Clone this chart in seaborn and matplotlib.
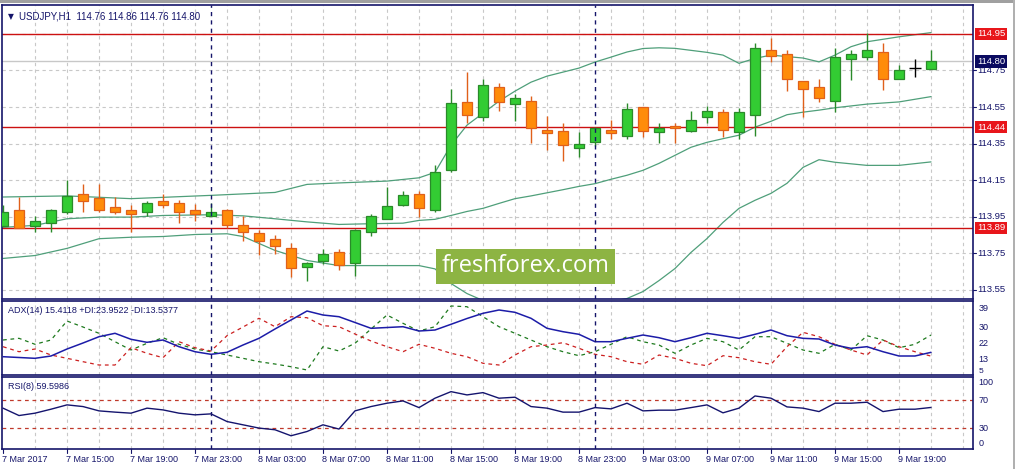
import numpy as np
import pandas as pd
import matplotlib
matplotlib.use("Agg")
import matplotlib.pyplot as plt
import seaborn as sns

# === USDJPY H1 candles, 7 Mar 11:00 -> 9 Mar 21:00 ===
opens = [113.900, 113.989, 113.900, 113.917, 113.975, 114.072, 114.050, 114.001, 113.989, 113.975,
         114.036, 114.027, 113.989, 113.954, 113.989, 113.903, 113.860, 113.830, 113.778, 113.676,
         113.709, 113.759, 113.698, 113.868, 113.939, 114.014, 114.076, 113.989, 114.208, 114.579,
         114.496, 114.657, 114.569, 114.585, 114.427, 114.418, 114.326, 114.357, 114.427, 114.390,
         114.550, 114.411, 114.449, 114.417, 114.496, 114.521, 114.416, 114.509, 114.860, 114.838,
         114.690, 114.657, 114.583, 114.814, 114.825, 114.849, 114.701, 114.761, 114.760]
highs = [114.012, 114.060, 113.952, 113.990, 114.149, 114.127, 114.127, 114.058, 114.012, 114.034,
         114.072, 114.040, 114.021, 114.027, 113.990, 113.954, 113.875, 113.848, 113.808, 113.700,
         113.771, 113.771, 113.884, 113.967, 114.112, 114.090, 114.089, 114.231, 114.646, 114.739,
         114.703, 114.680, 114.620, 114.610, 114.500, 114.460, 114.414, 114.440, 114.478, 114.571,
         114.550, 114.461, 114.463, 114.527, 114.558, 114.538, 114.547, 114.898, 114.925, 114.860,
         114.690, 114.701, 114.871, 114.861, 114.956, 114.898, 114.779, 114.810, 114.860]
lows = [113.897, 113.889, 113.866, 113.866, 113.965, 113.975, 113.975, 113.965, 113.866, 113.954,
        114.000, 113.915, 113.926, 113.954, 113.890, 113.820, 113.740, 113.744, 113.623, 113.597,
        113.689, 113.660, 113.625, 113.844, 113.939, 114.008, 113.948, 113.975, 114.195, 114.460,
        114.473, 114.530, 114.473, 114.352, 114.317, 114.255, 114.277, 114.339, 114.376, 114.376,
        114.386, 114.352, 114.352, 114.414, 114.460, 114.386, 114.376, 114.390, 114.797, 114.639,
        114.496, 114.578, 114.523, 114.697, 114.806, 114.642, 114.701, 114.715, 114.760]
closes = [113.975, 113.890, 113.928, 113.989, 114.062, 114.036, 113.985, 113.975, 113.965, 114.027,
          114.014, 113.975, 113.965, 113.978, 113.906, 113.866, 113.820, 113.788, 113.671, 113.698,
          113.748, 113.688, 113.879, 113.952, 114.010, 114.071, 113.999, 114.197, 114.570, 114.509,
          114.668, 114.578, 114.597, 114.437, 114.410, 114.340, 114.350, 114.438, 114.410, 114.537,
          114.417, 114.436, 114.438, 114.477, 114.527, 114.427, 114.521, 114.871, 114.827, 114.701,
          114.646, 114.597, 114.825, 114.838, 114.860, 114.706, 114.755, 114.761, 114.800]

# === Bollinger bands (read at selected bars) ===
bb_up_bar = [0, 4, 8, 13, 15, 17, 19, 21, 24, 26, 27, 28, 29, 30, 31, 32, 33, 34, 36, 37, 38, 39,
             40, 41, 42, 44, 45, 46, 47, 48, 50, 51, 52, 53, 54, 56, 58]
bb_up = [114.058, 114.064, 114.049, 114.067, 114.075, 114.083, 114.127, 114.135, 114.145, 114.163,
         114.193, 114.341, 114.451, 114.516, 114.582, 114.637, 114.686, 114.719, 114.763, 114.796,
         114.823, 114.851, 114.870, 114.874, 114.871, 114.849, 114.834, 114.789, 114.816, 114.834,
         114.818, 114.797, 114.834, 114.880, 114.907, 114.934, 114.957]
bb_mid_bar = [0, 2, 4, 6, 8, 10, 13, 15, 17, 19, 21, 23, 25, 26, 27, 28, 29, 30, 31, 32, 33, 34,
              35, 36, 37, 38, 39, 40, 41, 42, 43, 44, 45, 46, 47, 48, 49, 50, 51, 52, 54, 56, 58]
bb_mid = [113.892, 113.903, 113.939, 113.948, 113.948, 113.957, 113.961, 113.955, 113.939, 113.922,
          113.908, 113.912, 113.915, 113.930, 113.936, 113.957, 113.979, 113.996, 114.023, 114.049,
          114.064, 114.081, 114.098, 114.116, 114.131, 114.155, 114.177, 114.204, 114.242, 114.286,
          114.330, 114.357, 114.377, 114.396, 114.440, 114.472, 114.508, 114.522, 114.533, 114.546,
          114.566, 114.578, 114.607]
bb_low_bar = [0, 2, 4, 6, 8, 10, 12, 14, 15, 17, 19, 21, 23, 26, 27, 28, 29, 30, 31, 32, 33, 34,
              35, 36, 37, 38, 39, 40, 41, 42, 43, 44, 45, 46, 47, 48, 49, 50, 51, 52, 54, 56, 58]
bb_low = [113.722, 113.738, 113.777, 113.830, 113.838, 113.842, 113.853, 113.857, 113.842, 113.766,
          113.711, 113.683, 113.683, 113.683, 113.665, 113.585, 113.530, 113.492, 113.470, 113.459,
          113.442, 113.442, 113.453, 113.470, 113.470, 113.486, 113.503, 113.541, 113.601, 113.667,
          113.755, 113.831, 113.919, 113.996, 114.040, 114.078, 114.133, 114.220, 114.262, 114.248,
          114.231, 114.231, 114.250]

# === ADX(14) ===
adx_main = [13.26, 12.87, 12.47, 13.61, 17.05, 20.01, 23.11, 24.79, 21.83, 20.35, 21.49, 18.19,
            15.72, 14.44, 15.43, 19.02, 22.32, 26.91, 31.34, 35.77, 33.80, 32.96, 30.11, 27.25,
            27.64, 28.04, 25.92, 26.41, 29.22, 32.08, 34.64, 36.27, 35.13, 32.18, 27.25, 25.58,
            24.29, 20.65, 20.65, 22.32, 23.95, 22.62, 20.65, 22.62, 24.79, 23.61, 22.32, 24.29,
            26.41, 23.61, 22.32, 21.98, 19.02, 17.40, 18.19, 15.72, 13.61, 13.61, 15.41]
plus_di = [21.49, 22.32, 19.37, 21.49, 30.85, 27.89, 24.79, 20.65, 16.56, 19.86, 22.62, 19.37,
           17.05, 15.72, 14.10, 12.47, 10.80, 9.66, 8.33, 6.71, 18.19, 16.07, 19.86, 26.91,
           33.80, 29.71, 25.92, 28.04, 38.24, 37.89, 32.96, 28.04, 24.79, 21.49, 18.19, 15.72,
           13.75, 15.72, 19.37, 23.11, 20.65, 19.02, 14.94, 19.02, 22.32, 20.65, 16.56, 23.11,
           23.11, 19.86, 16.56, 14.94, 19.37, 16.56, 23.61, 21.49, 17.69, 19.37, 23.95]
minus_di = [18.19, 15.72, 17.05, 14.10, 12.47, 10.80, 9.17, 9.17, 17.69, 14.94, 12.77, 20.65,
            17.69, 16.07, 23.61, 27.89, 32.18, 28.04, 32.96, 32.47, 28.53, 28.04, 24.44, 20.99,
            18.19, 15.72, 19.37, 17.40, 14.94, 13.26, 10.01, 9.17, 14.10, 18.19, 19.02, 20.16,
            17.40, 14.44, 13.26, 10.80, 9.52, 14.10, 12.47, 10.01, 8.83, 13.75, 12.77, 10.80,
            9.52, 18.19, 25.28, 23.11, 19.37, 16.56, 14.10, 21.49, 18.19, 15.72, 13.54]

# === RSI(8) ===
rsi = [58.6, 48.0, 51.4, 57.1, 63.3, 60.9, 54.7, 52.9, 51.4, 58.6, 56.1, 51.4, 49.0, 50.4, 39.4,
       34.7, 30.0, 27.6, 19.0, 25.1, 34.7, 28.6, 54.7, 60.9, 65.7, 69.0, 59.4, 72.9, 82.3, 77.6,
       80.9, 72.9, 74.3, 60.9, 58.6, 52.9, 52.9, 59.4, 57.6, 65.7, 54.7, 55.7, 55.7, 59.4, 63.3,
       51.9, 58.6, 76.1, 72.9, 60.4, 58.6, 53.7, 65.7, 65.7, 67.1, 53.7, 57.1, 57.1, 59.6]

levels = [114.95, 114.44, 113.89]
last_price = 114.80
price_ticks = [114.75, 114.55, 114.35, 114.15, 113.95, 113.75, 113.55]
adx_ticks = [39, 30, 22]
rsi_levels = [70, 30]
day_breaks = [13, 37]
time_labels = ["7 Mar 2017", "7 Mar 15:00", "7 Mar 19:00", "7 Mar 23:00", "8 Mar 03:00",
               "8 Mar 07:00", "8 Mar 11:00", "8 Mar 15:00", "8 Mar 19:00", "8 Mar 23:00",
               "9 Mar 03:00", "9 Mar 07:00", "9 Mar 11:00", "9 Mar 15:00", "9 Mar 19:00"]

# === Style ===
sns.set_style("white")
plt.rcParams["font.family"] = ["Liberation Sans", "DejaVu Sans"]
NAVY = "#15156a"
GRID = "#c8c8c8"
BAND = "#4f9f7a"
RED = "#cc1111"
UP_FILL, UP_EDGE = "#33cc33", "#2a8a2a"
DN_FILL, DN_EDGE = "#ff8c0a", "#e0601a"

W, H = 1015, 469
fig = plt.figure(figsize=(W / 100, H / 100), dpi=100)
fig.patch.set_facecolor("white")


def box(x0, y0, x1, y1):
    return [x0 / W, 1 - y1 / H, (x1 - x0) / W, (y1 - y0) / H]


ax = fig.add_axes(box(2, 5, 973, 298.5))
ax_adx = fig.add_axes(box(2, 301, 973, 375))
ax_rsi = fig.add_axes(box(2, 377, 973, 449))

n = len(opens)
bars = np.arange(n)
xlim = (-0.0625, 60.625)

for a in (ax, ax_adx, ax_rsi):
    a.set_xlim(*xlim)
    a.set_facecolor("white")
    for s in a.spines.values():
        s.set_color(NAVY)
        s.set_linewidth(1.2)
    a.set_xticks([])
    a.set_yticks([])
    for b in range(2, 61, 2):
        a.axvline(b, color=GRID, lw=0.8, ls=(0, (3, 3)), zorder=0)
    for d in day_breaks:
        a.axvline(d, color=NAVY, lw=1, ls=(0, (3, 3)), zorder=4)

# === Main price panel ===
ax.set_ylim(113.503, 115.108)
for p in price_ticks + [114.95]:
    ax.axhline(p, color=GRID, lw=0.8, ls=(0, (3, 3)), zorder=0)
ax.axhline(last_price, color="#c8c8c8", lw=1, zorder=1)
for lv in levels:
    ax.axhline(lv, color=RED, lw=1, zorder=2)

sns.lineplot(x=bb_up_bar, y=bb_up, ax=ax, color=BAND, lw=0.9, zorder=1)
sns.lineplot(x=bb_mid_bar, y=bb_mid, ax=ax, color=BAND, lw=0.9, zorder=1)
sns.lineplot(x=bb_low_bar, y=bb_low, ax=ax, color=BAND, lw=0.9, zorder=1)

df = pd.DataFrame({"open": opens, "high": highs, "low": lows, "close": closes, "bar": bars})
df["body_lo"] = df[["open", "close"]].min(axis=1)
df["body_h"] = (df["close"] - df["open"]).abs().clip(lower=0.004)
is_doji = df["close"] == df["open"]
is_up = df["close"] > df["open"]
body = df[~is_doji]
up = body[is_up[~is_doji]]
dn = body[~is_up[~is_doji]]
ax.vlines(up["bar"], up["low"], up["high"], color=UP_EDGE, lw=1, zorder=3)
ax.vlines(dn["bar"], dn["low"], dn["high"], color=DN_EDGE, lw=1, zorder=3)
ax.bar(up["bar"], up["body_h"], bottom=up["body_lo"], width=0.62, color=UP_FILL,
       edgecolor=UP_EDGE, linewidth=0.9, zorder=3)
ax.bar(dn["bar"], dn["body_h"], bottom=dn["body_lo"], width=0.62, color=DN_FILL,
       edgecolor=DN_EDGE, linewidth=0.9, zorder=3)
dj = df[is_doji]
ax.vlines(dj["bar"], dj["low"], dj["high"], color="black", lw=1, zorder=3)
ax.hlines(dj["open"], dj["bar"] - 0.4, dj["bar"] + 0.4, color="black", lw=1, zorder=3)

ytr = ax.get_yaxis_transform()
for p in price_ticks:
    ax.text(1.004, p, f"{p:.2f}", transform=ytr, ha="left", va="center", fontsize=6.8,
            color=NAVY, clip_on=False)
    ax.plot([1.0, 1.003], [p, p], transform=ytr, color=NAVY, lw=0.8, clip_on=False)
for lv in levels:
    ax.text(1.004, lv, f"{lv:.2f}", transform=ytr, ha="left", va="center", fontsize=6.8,
            color="white", clip_on=False,
            bbox=dict(boxstyle="square,pad=0.18", fc="#e8161b", ec="none"))
ax.text(1.004, last_price, f"{last_price:.2f}", transform=ytr, ha="left", va="center",
        fontsize=6.8, color="white", clip_on=False, zorder=6,
        bbox=dict(boxstyle="square,pad=0.18", fc="#0a0a60", ec="none"))

ax.text(0.006, 0.975, "\u25bc", transform=ax.transAxes, ha="left", va="top", fontsize=5.5,
        color=NAVY, family="DejaVu Sans")
ax.text(0.017, 0.977, "USDJPY,H1  114.76 114.86 114.76 114.80", transform=ax.transAxes,
        ha="left", va="top", fontsize=7, color=NAVY)

# watermark
ax.text(32.66, 113.678, "freshforex.com", ha="center", va="center", fontsize=17,
        color="white", family=["Open Sans", "DejaVu Sans"], zorder=7,
        bbox=dict(boxstyle="square,pad=0.25", fc="#8db443", ec="none"))

# === ADX panel ===
ax_adx.set_ylim(4.25, 40.7)
sns.lineplot(x=bars, y=adx_main, ax=ax_adx, color="#1c1ca8", lw=1.1, zorder=3)
sns.lineplot(x=bars, y=plus_di, ax=ax_adx, color="#1e7a1e", lw=0.9, ls=(0, (3, 3)), zorder=2)
sns.lineplot(x=bars, y=minus_di, ax=ax_adx, color="#cc2020", lw=0.9, ls=(0, (3, 3)), zorder=2)
atr = ax_adx.get_yaxis_transform()
for t in adx_ticks:
    ax_adx.text(1.006, t, str(t), transform=atr, ha="left", va="top", fontsize=6.5,
                color=NAVY, clip_on=False)
ax_adx.text(1.006, 14.2, "13", transform=atr, ha="left", va="top", fontsize=6.5,
            color=NAVY, clip_on=False)
ax_adx.text(1.006, 4.4, "5", transform=atr, ha="left", va="bottom", fontsize=6.0,
            color=NAVY, clip_on=False)
ax_adx.text(0.006, 0.93, "ADX(14) 15.4118 +DI:23.9522 -DI:13.5377", transform=ax_adx.transAxes,
            ha="left", va="top", fontsize=6.5, color=NAVY)

# === RSI panel ===
ax_rsi.set_ylim(0, 103.3)
for lv in rsi_levels:
    ax_rsi.axhline(lv, color="#c0392b", lw=0.9, ls=(0, (3, 3)), zorder=1)
sns.lineplot(x=bars, y=rsi, ax=ax_rsi, color="#14146e", lw=1, zorder=3)
rtr = ax_rsi.get_yaxis_transform()
ax_rsi.text(1.006, 101.5, "100", transform=rtr, ha="left", va="top", fontsize=6.5, color=NAVY,
            clip_on=False)
for lv in rsi_levels:
    ax_rsi.text(1.006, lv, str(lv), transform=rtr, ha="left", va="center", fontsize=6.5,
                color=NAVY, clip_on=False)
ax_rsi.text(1.006, 1.5, "0", transform=rtr, ha="left", va="bottom", fontsize=6.5, color=NAVY,
            clip_on=False)
ax_rsi.text(0.006, 0.93, "RSI(8) 59.5986", transform=ax_rsi.transAxes, ha="left", va="top",
            fontsize=6.5, color=NAVY)

for a in (ax, ax_adx, ax_rsi):
    a.set_xlabel("")
    a.set_ylabel("")
    leg = a.get_legend()
    if leg:
        leg.remove()

# time axis
xtr = ax_rsi.get_xaxis_transform()
for i, lab in enumerate(time_labels):
    b = i * 4
    ax_rsi.plot([b, b], [0, -0.05], transform=xtr, color=NAVY, lw=0.8, clip_on=False)
    ax_rsi.text(b - 0.05, -0.09, lab, transform=xtr, ha="left", va="top", fontsize=6.5,
                color=NAVY, clip_on=False)

fig.add_artist(plt.Rectangle((0, 1 - 3 / H), 1, 3 / H, transform=fig.transFigure,
                             color="#a0a0a0", lw=0))
fig.add_artist(plt.Rectangle((1 - 2 / W, 0), 2 / W, 1, transform=fig.transFigure,
                             color="#b0b0b0", lw=0))

fig.savefig("out.png", dpi=100)
